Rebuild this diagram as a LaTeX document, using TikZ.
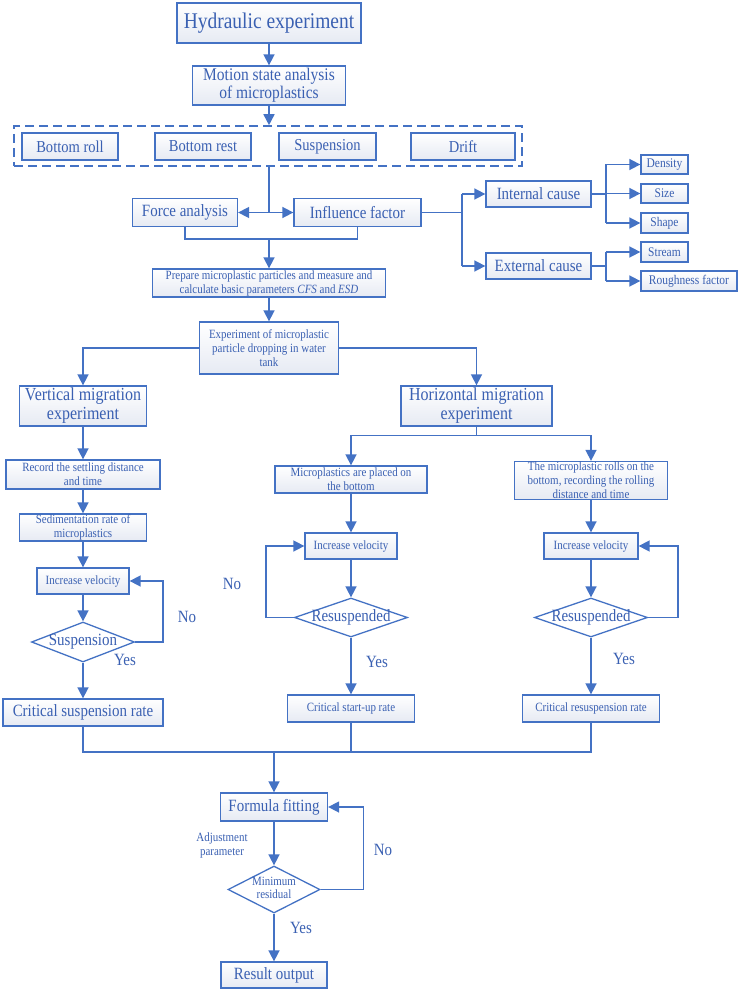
\documentclass[tikz,border=0pt]{standalone}
\usepackage{xcolor}
\usepackage{fontspec}
\setmainfont{Liberation Serif}[FakeStretch=0.87]
\usepackage{tikz}
\usetikzlibrary{shapes.geometric,arrows.meta,positioning,calc}
\definecolor{lineblue}{RGB}{68,114,196}
\definecolor{textblue}{RGB}{58,96,178}
\definecolor{boxshade}{RGB}{230,234,243}
\tikzset{
    procbox/.style={
        rectangle,
        draw=lineblue,
        line width=1.3pt,
        top color=white,
        bottom color=boxshade,
        text=textblue,
        inner sep=0pt,
        align=center
    },
    decision/.style={
        diamond,
        draw=lineblue,
        line width=1.3pt,
        fill=white,
        text=textblue,
        inner sep=0pt
    },
    flow/.style={
        -{Triangle[length=11pt,width=11pt]},
        draw=lineblue,
        line width=1.6pt
    },
    link/.style={
        draw=lineblue,
        line width=1.6pt
    },
    answer/.style={text=textblue, font=\fontsize{17.2}{19}\selectfont},
    hugefont/.style={font=\fontsize{22.4}{24}\selectfont},
    largefont/.style={font=\fontsize{17.2}{18}\selectfont},
    statefont/.style={font=\fontsize{16.7}{18}\selectfont},
    headfont/.style={font=\fontsize{18.4}{19}\selectfont},
    smallfont/.style={font=\fontsize{12.6}{14}\selectfont},
    tinyfont/.style={font=\fontsize{13.2}{14}\selectfont}
}

\begin{document}
\begin{tikzpicture}[x=1pt,y=-1pt]
\useasboundingbox (0,0) rectangle (741,992);

% Hydraulic experiment
\node[procbox, hugefont, minimum width=184pt, minimum height=40pt] (hydro) at (269,23) {Hydraulic experiment};
\node[procbox, font=\fontsize{17.8}{18}\selectfont, minimum width=153pt, minimum height=39pt] (motion) at (269,85.5) {Motion state analysis\\of microplastics};

% Motion states
\node[draw=lineblue, line width=1.6pt, dash pattern=on 9pt off 5pt, minimum width=508pt, minimum height=40pt, inner sep=0pt] (states) at (268,146) {};
\node[procbox, statefont, minimum width=96pt, minimum height=27pt] (roll) at (70,146.5) {Bottom roll};
\node[procbox, statefont, minimum width=96pt, minimum height=27pt] (rest) at (203,146.5) {Bottom rest};
\node[procbox, statefont, minimum width=97pt, minimum height=27pt] (suspstate) at (327.5,146.5) {Suspension};
\node[procbox, statefont, minimum width=104pt, minimum height=27pt] (drift) at (463,146.5) {Drift};

% Force analysis and influence factor
\node[procbox, largefont, minimum width=105pt, minimum height=28pt] (force) at (185,212.5) {Force analysis};
\node[procbox, largefont, minimum width=127pt, minimum height=28pt] (influence) at (357.5,212.5) {Influence factor};
\node[procbox, largefont, minimum width=105pt, minimum height=26pt] (internal) at (538.5,194) {Internal cause};
\node[procbox, largefont, minimum width=105pt, minimum height=26pt] (external) at (538.5,266) {External cause};
\node[procbox, tinyfont, minimum width=47pt, minimum height=19pt] (density) at (664.5,164.5) {Density};
\node[procbox, tinyfont, minimum width=47pt, minimum height=19pt] (size) at (664.5,193.5) {Size};
\node[procbox, tinyfont, minimum width=47pt, minimum height=20pt] (shp) at (664.5,223) {Shape};
\node[procbox, tinyfont, minimum width=47pt, minimum height=20pt] (stream) at (664.5,252) {Stream};
\node[procbox, tinyfont, minimum width=96pt, minimum height=20pt] (rough) at (689,281) {Roughness factor};

% Particles and dropping experiment
\node[procbox, smallfont, minimum width=233pt, minimum height=28pt] (prepare) at (269,283) {Prepare microplastic particles and measure and\\calculate basic parameters \textit{CFS} and \textit{ESD}};
\node[procbox, smallfont, minimum width=139pt, minimum height=52pt] (experiment) at (269,348) {Experiment of microplastic\\particle dropping in water\\tank};

% Vertical migration
\node[procbox, headfont, minimum width=127pt, minimum height=40pt] (vertical) at (83,406) {Vertical migration\\experiment};
\node[procbox, smallfont, minimum width=154pt, minimum height=29pt] (record) at (83,474.5) {Record the settling distance\\and time};
\node[procbox, smallfont, minimum width=127pt, minimum height=27pt] (sediment) at (83,527.5) {Sedimentation rate of\\microplastics};
\node[procbox, smallfont, minimum width=92pt, minimum height=26pt] (incv1) at (83,581) {Increase velocity};
\node[decision, largefont, minimum width=103pt, minimum height=40pt] (susp) at (83,642) {\makebox[0pt]{Suspension}};
\node[procbox, largefont, minimum width=160pt, minimum height=27pt] (crit1) at (83,712.5) {Critical suspension rate};

% Horizontal migration
\node[procbox, headfont, minimum width=151pt, minimum height=40pt] (horizontal) at (476.5,406) {Horizontal migration\\experiment};
\node[procbox, smallfont, minimum width=152pt, minimum height=27pt] (placed) at (351,479.5) {Microplastics are placed on\\the bottom};
\node[procbox, smallfont, minimum width=92pt, minimum height=26pt] (incv2) at (351,546) {Increase velocity};
\node[decision, largefont, minimum width=113pt, minimum height=39pt] (resus1) at (351,617.5) {\makebox[0pt]{Resuspended}};
\node[procbox, smallfont, minimum width=127pt, minimum height=27pt] (crit2) at (351,708.5) {Critical start-up rate};
\node[procbox, smallfont, minimum width=153pt, minimum height=38pt] (rolls) at (591,480.5) {The microplastic rolls on the\\bottom, recording the rolling\\distance and time};
\node[procbox, smallfont, minimum width=94pt, minimum height=26pt] (incv3) at (591,546) {Increase velocity};
\node[decision, largefont, minimum width=113pt, minimum height=39pt] (resus2) at (591,617.5) {\makebox[0pt]{Resuspended}};
\node[procbox, smallfont, minimum width=137pt, minimum height=27pt] (crit3) at (591,708.5) {Critical resuspension rate};

% Formula fitting
\node[procbox, largefont, minimum width=107pt, minimum height=28pt] (formula) at (274,807) {Formula fitting};
\node[decision, smallfont, minimum width=92pt, minimum height=47pt] (minres) at (274,889.5) {\makebox[0pt]{\begin{tabular}{@{}c@{}}Minimum\\[-1pt]residual\end{tabular}}};
\node[procbox, largefont, minimum width=106pt, minimum height=26pt] (result) at (274,975) {Result output};

% Labels
\node[answer] (no1) at (187,617) {No};
\node[answer] (yes1) at (125,660) {Yes};
\node[answer] (no2) at (232,584) {No};
\node[answer] (yes2) at (377,662) {Yes};
\node[answer] (yes3) at (624,659) {Yes};
\node[text=textblue, smallfont, align=center] (adjust) at (222,845) {Adjustment\\parameter};
\node[answer] (no4) at (383,850) {No};
\node[answer] (yes4) at (301,928) {Yes};

% Connectors, top part
\draw[flow] (hydro) -- (motion);
\draw[flow] (motion.south) -- (motion.south |- states.north);
\coordinate (split1) at (269,212.5);
\draw[link] (motion.south |- states.south) -- (split1);
\draw[flow] (split1) -- (force.east);
\draw[flow] (split1) -- (influence.west);
\draw[link] (force.south) -- ++(0,12) -| (influence.south);
\coordinate (merge1) at (269,239);
\draw[flow] (merge1) -- (prepare.north);
\coordinate (fork1) at (462,212.5);
\draw[link] (influence.east) -- (fork1);
\draw[link] (fork1 |- internal) -- (fork1 |- external);
\draw[flow] (fork1 |- internal) -- (internal.west);
\draw[flow] (fork1 |- external) -- (external.west);
\coordinate (fork2) at (606,194);
\draw[link] (internal.east) -- (fork2);
\draw[link] (fork2 |- density) -- (fork2 |- shp);
\foreach \n in {density,size,shp}
    \draw[flow] (fork2 |- \n) -- (\n.west);
\coordinate (fork3) at (606,266);
\draw[link] (external.east) -- (fork3);
\draw[link] (fork3 |- stream) -- (fork3 |- rough);
\foreach \n in {stream,rough}
    \draw[flow] (fork3 |- \n) -- (\n.west);

% Connectors, migration experiments
\draw[flow] (prepare) -- (experiment);
\draw[flow] (experiment.west) -| (vertical.north);
\draw[flow] (experiment.east) -| (horizontal.north);
\draw[flow] (vertical) -- (record);
\draw[flow] (record) -- (sediment);
\draw[flow] (sediment) -- (incv1);
\draw[flow] (incv1) -- (susp);
\draw[flow] (susp) -- (crit1);
\draw[flow] (susp.east) -- ++(28,0) |- (incv1.east);
\draw[link] (horizontal.south) -- ++(0,9) coordinate (fork4);
\draw[flow] (fork4) -| (placed.north);
\draw[flow] (fork4) -| (rolls.north);
\draw[flow] (placed) -- (incv2);
\draw[flow] (incv2) -- (resus1);
\draw[flow] (resus1) -- (crit2);
\draw[flow] (resus1.west) -- ++(-28,0) |- (incv2.west);
\draw[flow] (rolls) -- (incv3);
\draw[flow] (incv3) -- (resus2);
\draw[flow] (resus2) -- (crit3);
\draw[flow] (resus2.east) -- ++(30,0) |- (incv3.east);

% Connectors, fitting
\coordinate (merge2) at (274,752);
\draw[link] (crit1.south) |- (crit3.south |- merge2) -- (crit3.south);
\draw[link] (crit2.south) -- (crit2.south |- merge2);
\draw[flow] (merge2) -- (formula.north);
\draw[flow] (formula) -- (minres);
\draw[flow] (minres) -- (result);
\draw[flow] (minres.east) -- ++(43,0) |- (formula.east);
\end{tikzpicture}
\end{document}
